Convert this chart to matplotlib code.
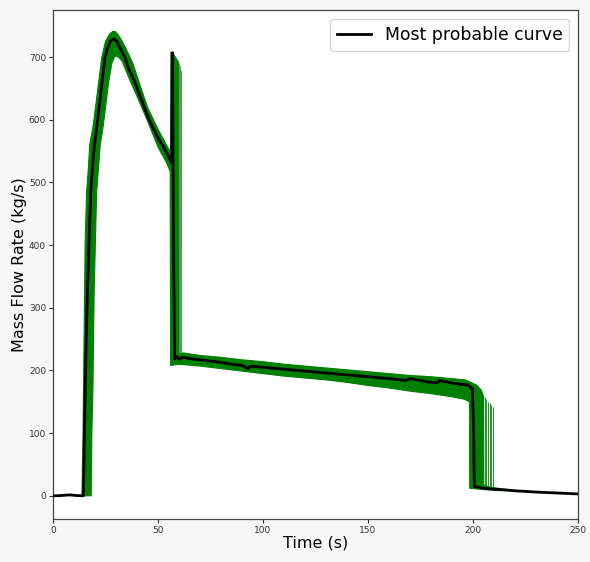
import matplotlib.pyplot as plt
import numpy as np

# most probable curve (black)
t_best = [0, 4, 8, 11, 14.5, 14.9, 15.3, 15.8, 16.4, 17.2, 18.0, 18.6, 19.3, 20.2, 21.2, 22.4,
          23.5, 24.8, 26.0, 27.5, 29.0, 30.2, 31.5, 33.0, 34.4, 36.0, 38.0, 40.7, 43.0,
          45.5, 48.0, 50.2, 51.5, 52.5, 53.3, 54.2, 55.2, 56.5, 56.9, 57.4, 57.9, 59.0,
          60.0, 62.0, 65.0, 70.0, 75.0, 80.0, 85.0, 90.0, 93.0, 94.0, 100.0, 110.0, 120.0,
          130.0, 140.0, 150.0, 160.0, 168.0, 170.0, 175.0, 178.0, 183.0, 184.0, 190.0,
          194.0, 197.4, 199.7, 200.3, 200.6, 205.0, 210.0, 214.7, 220.0, 230.0, 240.0, 250.0]
v_best = [0, 0.5, 1.5, 0.5, 0, 80, 166, 250, 325, 410, 485, 515, 545, 572, 598, 632,
          665, 700, 715, 726, 729, 726, 718, 708, 698, 682, 668, 645, 624,
          602, 585, 570, 563, 558, 552, 547, 540, 532, 707, 400, 218, 222,
          218, 221, 219, 217, 215, 213, 210, 208, 203, 207, 205, 202, 199,
          196, 193, 190, 187, 184, 187, 184, 182, 180, 184, 180,
          178, 177, 171, 100, 15, 12, 10.5, 9.6, 8, 6, 4.5, 3]

# ensemble band: upper/left edge and lower/right edge
band_top_t = [13.8, 14.3, 14.8, 15.3, 16.0, 16.8, 17.5, 19.2, 21.0, 23.2, 25.0, 27.0, 28.5,
              29.5, 31.0, 33.0, 35.0, 38.0, 41.0, 45.0, 50.0, 54.0, 56.0, 56.1, 57.5, 59.0, 59.7,
              59.8, 62, 70, 80, 90, 100, 110, 120, 130, 140, 150, 160, 170, 180, 190, 196,
              199, 202, 204, 205.0, 205.1, 208, 212, 216]
band_top_v = [0, 100, 250, 400, 485, 520, 560, 592, 640, 699, 725, 737, 741,
              741, 736, 725, 712, 690, 660, 620, 585, 560, 548, 708, 704, 696, 692,
              226, 228, 224, 221, 217, 214, 210, 207, 204, 201, 198, 195, 192, 190, 187, 185,
              181, 176, 168, 158, 17, 14, 12, 10]
band_bot_t = [18.2, 18.5, 19.0, 19.6, 20.8, 22.5, 24.0, 26.5, 28.0, 29.5, 31.2, 33.0, 36.0,
              40.7, 45.0, 50.2, 54.0, 55.8, 56.0, 60, 70, 80, 90, 100, 110, 120, 130, 140,
              150, 160, 170, 180, 190, 196, 198.3, 198.4, 205, 212, 216]
band_bot_v = [0, 100, 166, 325, 485, 560, 592, 660, 690, 702, 700, 693, 668,
              632, 598, 555, 532, 518, 208, 210, 207, 203, 199, 195, 191, 188, 185, 181,
              176, 172, 167, 163, 158, 154, 150, 12, 10, 8.5, 8]

# single members that spike / drop later than the main bundle
spike_t = [60.1, 60.6, 61.1]
spike_top = [690, 686, 680]
spike_base = [220, 219, 218]
drop_t = [205.5, 206.3, 207.1, 207.9, 208.7, 209.4]
drop_top = [158, 154, 150, 148, 145, 141]
drop_base = [12, 12, 11, 11, 11, 10]

fig = plt.figure(figsize=(5.9, 5.62), dpi=100, facecolor='#f7f7f7')
ax = fig.add_axes([0.0898, 0.0765, 0.89, 0.9055])

poly_t = np.concatenate([band_top_t, band_bot_t[::-1]])
poly_v = np.concatenate([band_top_v, band_bot_v[::-1]])
ax.fill(poly_t, poly_v, color='green', linewidth=0.8, zorder=1)
ax.vlines(spike_t, spike_base, spike_top, color='green', linewidth=0.5, zorder=1)
ax.vlines(drop_t, drop_base, drop_top, color='green', linewidth=0.6, zorder=1)

ax.plot(t_best, v_best, color='black', linewidth=2, label='Most probable curve', zorder=3)

ax.set_xlim(0, 250)
ax.set_ylim(-37, 775)
ax.set_xticks([0, 50, 100, 150, 200, 250])
ax.set_yticks([0, 100, 200, 300, 400, 500, 600, 700])
ax.tick_params(labelsize=6.5, length=3, pad=2, colors='#333333')
for s in ax.spines.values():
    s.set_color('#444444')
    s.set_linewidth(0.9)

ax.set_xlabel('Time (s)', fontsize=11.5, labelpad=0.5)
ax.set_ylabel('Mass Flow Rate (kg/s)', fontsize=11.5, labelpad=1.5)
ax.legend(loc='upper right', fontsize=12.4)

fig.savefig('out.png', dpi=100, facecolor=fig.get_facecolor())
